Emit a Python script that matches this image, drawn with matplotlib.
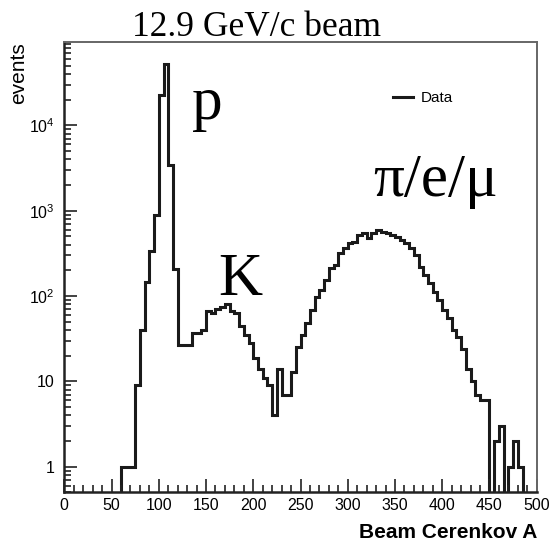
import numpy as np
import matplotlib
matplotlib.use("Agg")
import matplotlib.pyplot as plt
from matplotlib.ticker import MultipleLocator, LogLocator, FixedLocator, FixedFormatter, NullFormatter
from matplotlib.lines import Line2D

# histograma: primer bin en 55, ancho 5
bin_inicio = 55
bin_ancho = 5
cuentas = [
    0, 1, 1, 1, 9, 40, 147, 335, 900, 23000,
    52000, 3400, 206, 27, 27, 27, 37, 37, 40, 67,
    63, 70, 75, 81, 66, 63, 44, 35, 28, 19,
    14, 11, 9, 4, 14, 7, 7, 13, 25, 35,
    48, 69, 98, 118, 155, 212, 232, 318, 363, 420,
    435, 520, 545, 476, 545, 596, 569, 545, 520, 497,
    455, 420, 363, 304, 221, 178, 143, 113, 90, 69,
    55, 40, 33, 24, 14, 10, 7, 6, 6, 0,
    2, 3, 0, 1, 2, 1, 0,
]

titulo = "12.9 GeV/c beam"
etiqueta_x = "Beam Cerenkov A"
etiqueta_y = "events"
particulas = ["p", "K", "\u03c0/e/\u03bc"]
pos_particulas = [(135, 1.2e4), (163, 103), (327, 1490)]

yticks = [1, 10, 100, 1000, 10000]
ytick_labels = ["1", "10", r"$\mathregular{10^{2}}$", r"$\mathregular{10^{3}}$", r"$\mathregular{10^{4}}$"]

plt.rcParams["mathtext.fontset"] = "custom"
plt.rcParams["mathtext.rm"] = "Liberation Sans"
plt.rcParams["font.family"] = ["Liberation Sans", "DejaVu Sans"]

W, H = 549, 543
fig = plt.figure(figsize=(W / 100, H / 100), dpi=100)
ax = fig.add_axes([64.3 / W, 1 - 492.3 / H, (536.7 - 64.3) / W, (492.3 - 41.7) / H])

valores = np.array(cuentas, dtype=float)
bordes = bin_inicio + bin_ancho * np.arange(len(valores) + 1)
dibujo = np.where(valores > 0, valores, 1e-3)
ax.stairs(dibujo, bordes, color="#1a1a1a", linewidth=2.2, baseline=None)

ax.set_yscale("log")
ax.set_xlim(0, 500)
ax.set_ylim(0.5, 9.6e4)

ax.xaxis.set_major_locator(MultipleLocator(50))
ax.xaxis.set_minor_locator(MultipleLocator(10))
ax.yaxis.set_major_locator(FixedLocator(yticks))
ax.yaxis.set_major_formatter(FixedFormatter(ytick_labels))
ax.yaxis.set_minor_locator(LogLocator(base=10, subs=np.arange(2, 10)))
ax.yaxis.set_minor_formatter(NullFormatter())

ax.tick_params(which="both", direction="in", color="#222222", width=1.2,
               top=False, right=False)
ax.tick_params(which="major", length=9.4, labelsize=11.5)
ax.tick_params(which="minor", length=5)
ax.tick_params(axis="x", pad=4)
ax.tick_params(axis="y", pad=7)

for lado in ["left", "bottom"]:
    ax.spines[lado].set_color("#222222")
    ax.spines[lado].set_linewidth(1.8)
for lado in ["top", "right"]:
    ax.spines[lado].set_color("#666666")
    ax.spines[lado].set_linewidth(1.4)

# textos de las particulas
for texto, (px, py) in zip(particulas, pos_particulas):
    ax.text(px, py, texto, fontsize=44, family="Liberation Serif",
            ha="left", va="baseline")

fig.text(257 / W, 1 - 36 / H, titulo, fontsize=25.5, family="Liberation Serif",
         ha="center", va="baseline")
fig.text(537 / W, 1 - 538 / H, etiqueta_x, fontsize=15, fontweight="bold",
         ha="right", va="baseline")
fig.text(18.5 / W, 1 - 42 / H, etiqueta_y, fontsize=15, rotation=90,
         ha="center", va="top")

h = Line2D([], [], color="#1a1a1a", linewidth=2.2)
ax.legend([h], ["Data"], loc="center left", bbox_to_anchor=(393 / W, 1 - 98 / H),
          bbox_transform=fig.transFigure, frameon=False, fontsize=11,
          handlelength=1.3, handletextpad=0.5, borderpad=0, borderaxespad=0)

fig.savefig("out.png", dpi=100)
